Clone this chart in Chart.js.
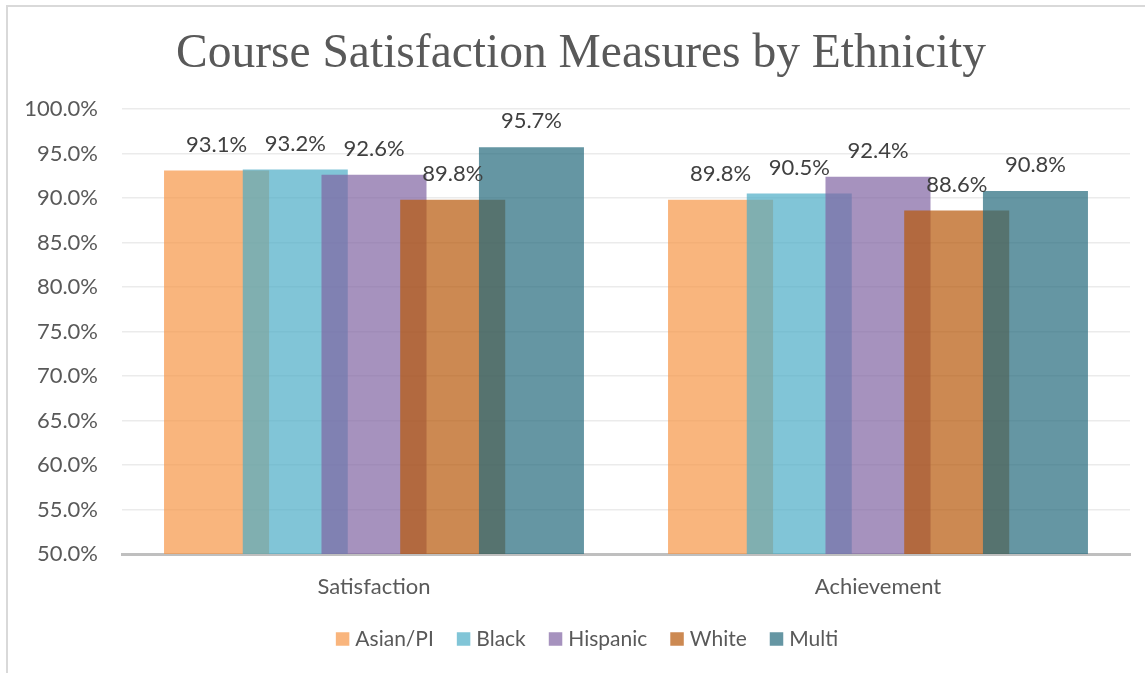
<!DOCTYPE html>
<html>
<head>
<meta charset="utf-8">
<script src="https://cdn.jsdelivr.net/npm/chart.js@4.4.1/dist/chart.umd.min.js"></script>
<style>
  html, body { margin: 0; padding: 0; background: #fff; overflow: hidden; }
  #wrap { position: relative; width: 1145px; height: 673px; }
  #frame { position: absolute; left: 6px; top: 5px; width: 1145px; height: 680px;
           border-left: 2px solid #D9D9D9; border-top: 2px solid #D9D9D9; box-sizing: border-box; }
  canvas { position: absolute; left: 0; top: 0; }
</style>
</head>
<body>
<div id="wrap">
  <div id="frame"></div>
  <canvas id="c" width="1145" height="673"></canvas>
</div>
<script>
// Course satisfaction measures, by ethnicity (percent)
const categories = ['Satisfaction', 'Achievement'];
const seriesNames = ['Asian/PI', 'Black', 'Hispanic', 'White', 'Multi'];
const asianPI  = [93.1, 89.8];
const black    = [93.2, 90.5];
const hispanic = [92.6, 92.4];
const white    = [89.8, 88.6];
const multi    = [95.7, 90.8];
const yTicks   = [50, 55, 60, 65, 70, 75, 80, 85, 90, 95, 100];

const seriesValues = [asianPI, black, hispanic, white, multi];
const seriesColors = [
  'rgba(247,150,70,0.7)',
  'rgba(75,172,198,0.7)',
  'rgba(128,100,162,0.7)',
  'rgba(182,87,8,0.7)',
  'rgba(36,106,124,0.7)'
];

const textColor = '#595959';
const sansFont = "Lato, 'Open Sans', 'Liberation Sans', sans-serif";

// Overlapping bars: paint series left to right so each one sits on top of the previous
const paintOrder = {
  id: 'paintOrder',
  beforeDatasetsDraw(chart) {
    const ctx = chart.ctx;
    const a = chart.chartArea;
    ctx.save();
    ctx.beginPath();
    ctx.rect(a.left, a.top, a.right - a.left, a.bottom - a.top);
    ctx.clip();
    for (let i = 0; i < chart.data.datasets.length; i++) {
      const meta = chart.getDatasetMeta(i);
      if (meta.visible !== false) meta.controller.draw();
    }
    ctx.restore();
    return false;
  }
};

// Title, value labels and legend drawn on the canvas
const decorations = {
  id: 'decorations',
  afterDraw(chart) {
    const ctx = chart.ctx;
    ctx.save();
    // value labels above each bar
    ctx.font = "22px " + sansFont;
    ctx.fillStyle = '#404040';
    ctx.textAlign = 'center';
    ctx.textBaseline = 'middle';
    chart.data.datasets.forEach((ds, i) => {
      chart.getDatasetMeta(i).data.forEach((bar, j) => {
        ctx.fillText(ds.data[j].toFixed(1) + '%', bar.x, bar.y - 26);
      });
    });

    // title
    ctx.font = "47.5px 'Liberation Serif', 'DejaVu Serif', serif";
    ctx.fillStyle = textColor;
    ctx.textAlign = 'center';
    ctx.textBaseline = 'alphabetic';
    ctx.fillText('Course Satisfaction Measures by Ethnicity', 581, 67);

    // legend
    ctx.font = "21px " + sansFont;
    ctx.textBaseline = 'middle';
    const box = 13.5, gapBoxText = 6, gapItems = 23;
    const widths = seriesNames.map(n => box + gapBoxText + ctx.measureText(n).width);
    const total = widths.reduce((a, b) => a + b, 0) + gapItems * (seriesNames.length - 1);
    let x = 587 - total / 2;
    const y = 639;
    ctx.textAlign = 'left';
    seriesNames.forEach((n, i) => {
      ctx.fillStyle = seriesColors[i];
      ctx.fillRect(x, y - box / 2, box, box);
      ctx.fillStyle = textColor;
      ctx.fillText(n, x + box + gapBoxText, y);
      x += widths[i] + gapItems;
    });
    ctx.restore();
  }
};

new Chart(document.getElementById('c'), {
  type: 'bar',
  data: {
    labels: categories,
    datasets: seriesNames.map((name, i) => ({
      label: name,
      data: seriesValues[i],
      backgroundColor: seriesColors[i],
      borderWidth: 0,
      barPercentage: 1.334,
      categoryPercentage: 0.781
    }))
  },
  options: {
    responsive: false,
    animation: false,
    devicePixelRatio: 1,
    layout: { padding: { top: 109, left: 0, right: 15, bottom: 0 } },
    plugins: {
      legend: { display: false },
      title: { display: false },
      tooltip: { enabled: false }
    },
    scales: {
      x: {
        grid: { display: false, drawTicks: false },
        border: { display: true, color: '#BFBFBF', width: 3 },
        ticks: { color: textColor, font: { size: 22, family: sansFont }, padding: 20 },
        afterFit(scale) { scale.height = 119; }
      },
      y: {
        min: 50,
        max: 100,
        afterBuildTicks(scale) { scale.ticks = yTicks.map(v => ({ value: v })); },
        grid: { color: '#EBEBEB', lineWidth: 1.5, drawTicks: false },
        border: { display: false },
        ticks: {
          color: textColor,
          font: { size: 22, family: sansFont },
          padding: 24,
          callback: v => v.toFixed(1) + '%'
        },
        afterFit(scale) { scale.width = 122; }
      }
    }
  },
  plugins: [paintOrder, decorations]
});
</script>
</body>
</html>
